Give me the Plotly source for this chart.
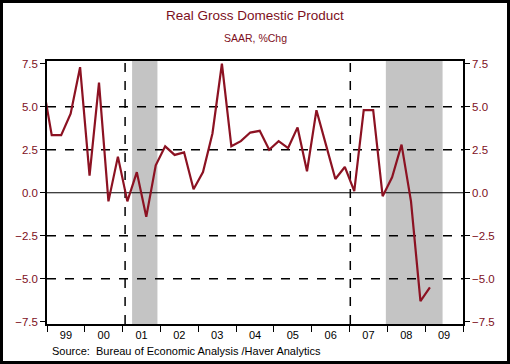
import plotly.graph_objects as go

# ---- data ----
quarters = ["1998Q4",
            "1999Q1", "1999Q2", "1999Q3", "1999Q4",
            "2000Q1", "2000Q2", "2000Q3", "2000Q4",
            "2001Q1", "2001Q2", "2001Q3", "2001Q4",
            "2002Q1", "2002Q2", "2002Q3", "2002Q4",
            "2003Q1", "2003Q2", "2003Q3", "2003Q4",
            "2004Q1", "2004Q2", "2004Q3", "2004Q4",
            "2005Q1", "2005Q2", "2005Q3", "2005Q4",
            "2006Q1", "2006Q2", "2006Q3", "2006Q4",
            "2007Q1", "2007Q2", "2007Q3", "2007Q4",
            "2008Q1", "2008Q2", "2008Q3", "2008Q4",
            "2009Q1"]
gdp_growth = [6.5,
              3.35, 3.35, 4.6, 7.3,
              1.0, 6.4, -0.5, 2.1,
              -0.5, 1.2, -1.4, 1.6,
              2.7, 2.2, 2.35, 0.2,
              1.2, 3.45, 7.5, 2.7,
              3.0, 3.5, 3.6, 2.5,
              3.0, 2.6, 3.8, 1.25,
              4.8, 2.8, 0.8, 1.5,
              0.1, 4.8, 4.8, -0.2,
              0.9, 2.8, -0.5, -6.3,
              -5.5]
recessions = [(2001.25, 2001.92), (2007.96, 2009.46)]
policy_markers = [2001.065, 2007.02]
year_labels = ["99", "00", "01", "02", "03", "04", "05", "06", "07", "08", "09"]
years = list(range(1999, 2010))
y_ticks = [-7.5, -5.0, -2.5, 0.0, 2.5, 5.0, 7.5]
dashed_levels = [-5.0, -2.5, 2.5, 5.0]

x_vals = [int(q[:4]) + (int(q[-1]) - 0.5) / 4 for q in quarters]

MAROON = "#7d0f1c"
LINE = "#8c1222"

fig = go.Figure()
fig.add_trace(go.Scatter(x=x_vals, y=gdp_growth, mode="lines",
                         line=dict(color=LINE, width=2.2),
                         hoverinfo="skip", showlegend=False))
# invisible trace for right axis
fig.add_trace(go.Scatter(x=[x_vals[1]], y=[gdp_growth[1]], mode="lines",
                         yaxis="y2", line=dict(width=0), opacity=0,
                         hoverinfo="skip", showlegend=False))

shapes = []
for a, b in recessions:
    shapes.append(dict(type="rect", xref="x", yref="paper", x0=a, x1=b, y0=0, y1=1,
                       fillcolor="#c4c4c4", line=dict(width=0), layer="below"))
for lv in dashed_levels:
    shapes.append(dict(type="line", xref="paper", yref="y", x0=0, x1=1, y0=lv, y1=lv,
                       line=dict(color="black", width=1.5, dash="dash"), layer="below"))
for xv in policy_markers:
    shapes.append(dict(type="line", xref="x", yref="paper", x0=xv, x1=xv, y0=0, y1=1,
                       line=dict(color="black", width=1.5, dash="dash"), layer="below"))
shapes.append(dict(type="line", xref="paper", yref="y", x0=0, x1=1, y0=0, y1=0,
                   line=dict(color="black", width=1.2), layer="below"))
# outer image border
L, R, T, B = 47, 47, 61, 40
PW, PH = 510 - L - R, 364 - T - B
shapes.append(dict(type="rect", xref="paper", yref="paper",
                   x0=-L / PW, x1=1 + R / PW, y0=-B / PH, y1=1 + T / PH,
                   line=dict(color="black", width=6), fillcolor="rgba(0,0,0,0)",
                   layer="above"))

yr = [-7.63, 7.66]
fig.update_layout(
    width=510, height=364,
    margin=dict(l=L, r=R, t=T, b=B),
    paper_bgcolor="white", plot_bgcolor="white",
    font=dict(family="Liberation Sans, Arial, sans-serif", color="black"),
    shapes=shapes,
    xaxis=dict(range=[1999, 2010], showgrid=False, zeroline=False,
               showline=True, linecolor="black", linewidth=1.5, mirror=True,
               tickmode="array", tickvals=[y + 0.5 for y in years], ticktext=year_labels,
               ticks="", tickfont=dict(size=11, color="black"),
               minor=dict(tickmode="array", tickvals=years + [2010], ticks="outside",
                          ticklen=6, tickcolor="black", tickwidth=1.2, showgrid=False)),
    yaxis=dict(range=yr, showgrid=False, zeroline=False,
               showline=True, linecolor="black", linewidth=1.5,
               tickmode="array", tickvals=y_ticks, tickformat=".1f",
               ticks="outside", ticklen=5, tickcolor="black", tickwidth=1.2,
               tickfont=dict(size=11.5, color=MAROON)),
    yaxis2=dict(range=yr, overlaying="y", side="right", showgrid=False, zeroline=False,
                showline=True, linecolor="black", linewidth=1.5,
                tickmode="array", tickvals=y_ticks, tickformat=".1f",
                ticks="outside", ticklen=5, tickcolor="black", tickwidth=1.2,
                tickfont=dict(size=11.5, color=MAROON)),
    annotations=[
        dict(text="Real Gross Domestic Product", xref="paper", yref="paper",
             x=0.5, y=1 + (T - 15) / PH, xanchor="center", yanchor="middle",
             showarrow=False, font=dict(size=13.5, color=MAROON)),
        dict(text="SAAR, %Chg", xref="paper", yref="paper",
             x=0.5, y=1 + (T - 38) / PH, xanchor="center", yanchor="middle",
             showarrow=False, font=dict(size=10.5, color=MAROON)),
        dict(text="Source:  Bureau of Economic Analysis /Haver Analytics", xref="paper",
             yref="paper", x=3 / PW, y=-(351 - 324) / PH, xanchor="left", yanchor="middle",
             showarrow=False, font=dict(size=11, color="black")),
    ],
)

fig.write_html("out.html", config={"displayModeBar": False},
               post_script="document.body.style.margin='0';")
